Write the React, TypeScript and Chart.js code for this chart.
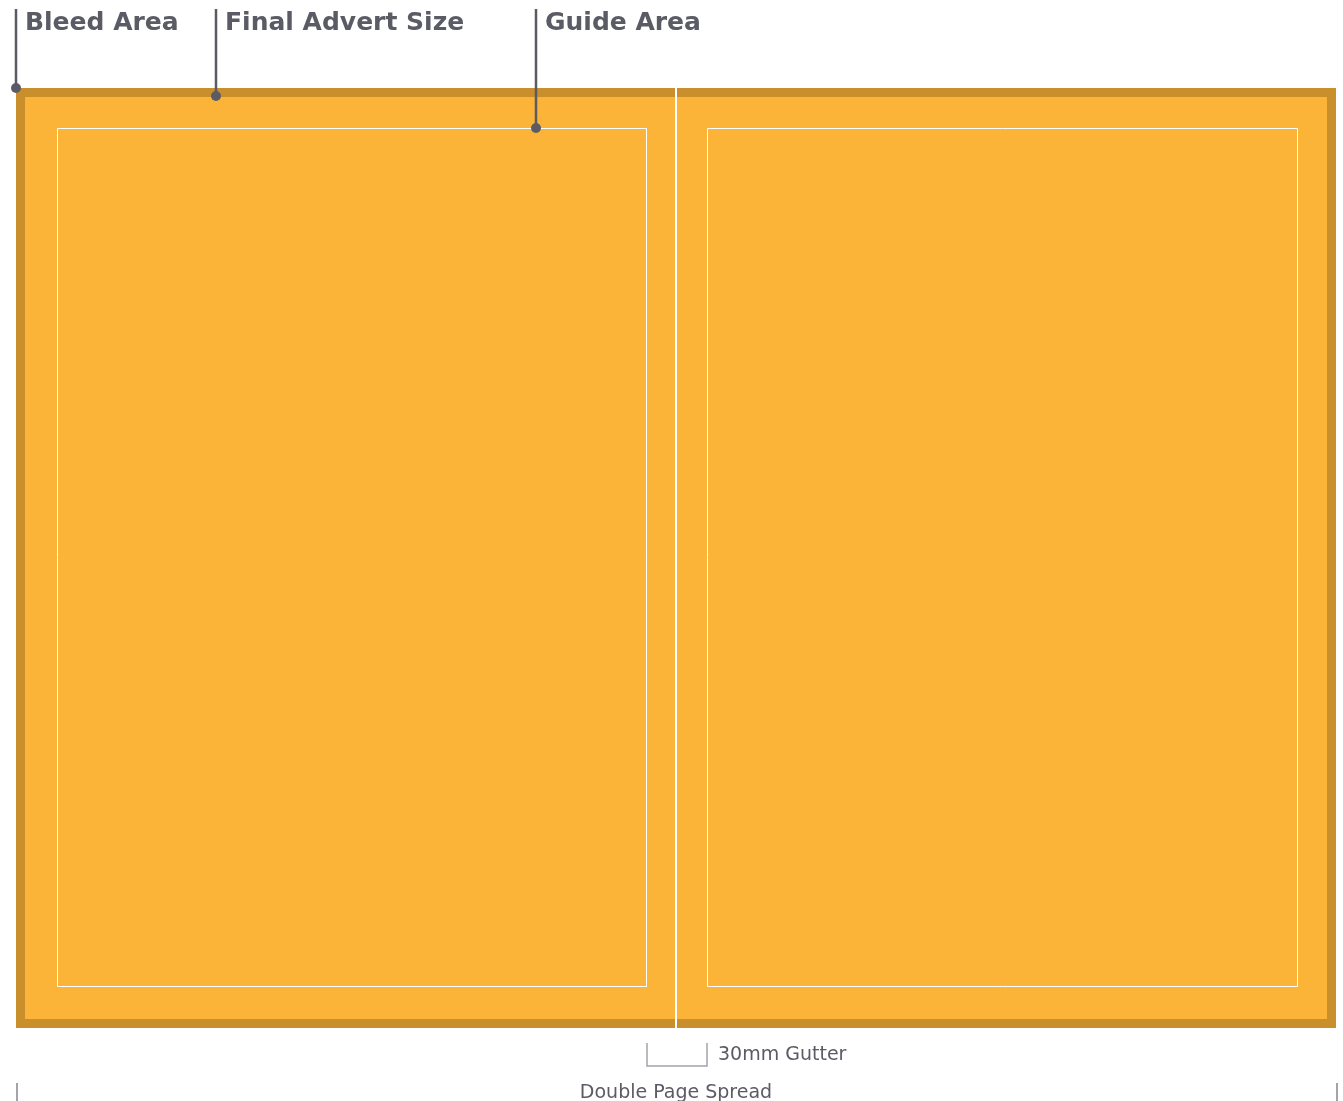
import { useEffect, useRef } from "react";
import { Chart, registerables } from "chart.js";

Chart.register(...registerables);

// All values in millimetres on the spread; origin = top-left corner of the bleed.
const spreadX = [0, 660];
const spreadY = [0, 470];
const bleedInset = 4.5;
const gutterCentre = 330;
const guidePagesX = [
  [20.75, 315.25],
  [345.75, 640.75],
];
const guideY = [20.25, 449.25];

const calloutLabels = ["Bleed Area", "Final Advert Size", "Guide Area"];
const calloutX = [0, 100, 260];
const calloutY = [0, 4, 20];
const calloutTop = -39.5;
const calloutTextY = -29.2;

const gutterLabel = "30mm Gutter";
const gutterBracketX = [315.5, 345.5];
const gutterBracketY = [477.5, 489];
const gutterLabelPos = [351, 486];

const spreadLabel = "Double Page Spread";
const spreadTickX = [0.5, 660.5];
const spreadTickY = [497.5, 506.5];
const spreadLabelY = 505;

const axisX = [-8, 663.5];
const axisY = [-44, 506.5];

const ORANGE = "#fbb438";
const BROWN = "#c88f2c";
const DARK = "#5a5b65";
const GREY = "#a3a4aa";

const rectPath = (x0: number, x1: number, y0: number, y1: number) => [
  { x: x0, y: y0 },
  { x: x1, y: y0 },
  { x: x1, y: y1 },
  { x: x0, y: y1 },
  { x: x0, y: y0 },
];

const lineDs = (data: any[], color: string, width: number, extra: any = {}) => ({
  type: "line" as const,
  data,
  showLine: true,
  borderColor: color,
  backgroundColor: color,
  borderWidth: width,
  pointRadius: 0,
  fill: false,
  tension: 0,
  borderJoinStyle: "miter" as const,
  borderCapStyle: "butt" as const,
  clip: false as any,
  ...extra,
});

const labelsPlugin = {
  id: "diagramLabels",
  afterDatasetsDraw(chart: any) {
    const { ctx } = chart;
    const sx = chart.scales.x;
    const sy = chart.scales.y;
    ctx.save();
    ctx.fillStyle = DARK;
    ctx.textBaseline = "alphabetic";
    ctx.font = "bold 25px 'DejaVu Sans'";
    ctx.textAlign = "left";
    calloutLabels.forEach((t, i) => {
      ctx.fillText(t, sx.getPixelForValue(calloutX[i]) + 9, sy.getPixelForValue(calloutTextY));
    });
    ctx.font = "19px 'DejaVu Sans'";
    ctx.fillText(gutterLabel, sx.getPixelForValue(gutterLabelPos[0]), sy.getPixelForValue(gutterLabelPos[1]));
    ctx.textAlign = "center";
    ctx.fillText(
      spreadLabel,
      sx.getPixelForValue((spreadX[0] + spreadX[1]) / 2),
      sy.getPixelForValue(spreadLabelY)
    );
    ctx.restore();
  },
};

export default function App() {
  const ref = useRef<HTMLCanvasElement | null>(null);

  useEffect(() => {
    if (!ref.current) return;
    const b = bleedInset / 2;
    const datasets: any[] = [];

    // Orange fill of the bleed area
    datasets.push(
      lineDs(
        [
          { x: spreadX[0], y: spreadY[0] },
          { x: spreadX[1], y: spreadY[0] },
        ],
        ORANGE,
        0,
        { fill: { value: spreadY[1] }, backgroundColor: ORANGE }
      )
    );
    // Bleed border
    datasets.push(
      lineDs(rectPath(spreadX[0] + b, spreadX[1] - b, spreadY[0] + b, spreadY[1] - b), BROWN, 9, {
        borderCapStyle: "square",
      })
    );
    // Guide areas
    guidePagesX.forEach((gx) => {
      datasets.push(lineDs(rectPath(gx[0], gx[1], guideY[0], guideY[1]), "#ffffff", 1));
    });
    // Gutter fold line
    datasets.push(
      lineDs(
        [
          { x: gutterCentre, y: spreadY[0] },
          { x: gutterCentre, y: spreadY[1] },
        ],
        "#ffffff",
        2
      )
    );
    // Callouts
    calloutX.forEach((cx, i) => {
      datasets.push(
        lineDs(
          [
            { x: cx, y: calloutTop },
            { x: cx, y: calloutY[i] },
          ],
          DARK,
          2.5,
          { pointRadius: [0, 5], pointBackgroundColor: DARK, pointBorderWidth: 0 }
        )
      );
    });
    // Gutter bracket
    datasets.push(
      lineDs(
        [
          { x: gutterBracketX[0], y: gutterBracketY[0] },
          { x: gutterBracketX[0], y: gutterBracketY[1] },
          { x: gutterBracketX[1], y: gutterBracketY[1] },
          { x: gutterBracketX[1], y: gutterBracketY[0] },
        ],
        GREY,
        1.5
      )
    );
    // Spread extent ticks
    spreadTickX.forEach((tx) => {
      datasets.push(
        lineDs(
          [
            { x: tx, y: spreadTickY[0] },
            { x: tx, y: spreadTickY[1] },
          ],
          GREY,
          2
        )
      );
    });

    // Chart.js draws dataset 0 last (on top); reverse so the fill is at the bottom.
    datasets.reverse();

    const chart = new Chart(ref.current, {
      type: "scatter",
      data: { datasets },
      options: {
        animation: false,
        responsive: false,
        devicePixelRatio: 1,
        layout: { padding: 0, autoPadding: false },
        events: [],
        plugins: { legend: { display: false }, tooltip: { enabled: false }, title: { display: false } },
        scales: {
          x: { type: "linear", min: axisX[0], max: axisX[1], display: false },
          y: { type: "linear", min: axisY[0], max: axisY[1], reverse: true, display: false },
        },
      },
      plugins: [labelsPlugin],
    });
    return () => chart.destroy();
  }, []);

  return (
    <div style={{ position: "absolute", left: 0, top: 0, width: 1343, height: 1101, background: "#fff" }}>
      <canvas ref={ref} width={1343} height={1101} style={{ display: "block" }} />
    </div>
  );
}
